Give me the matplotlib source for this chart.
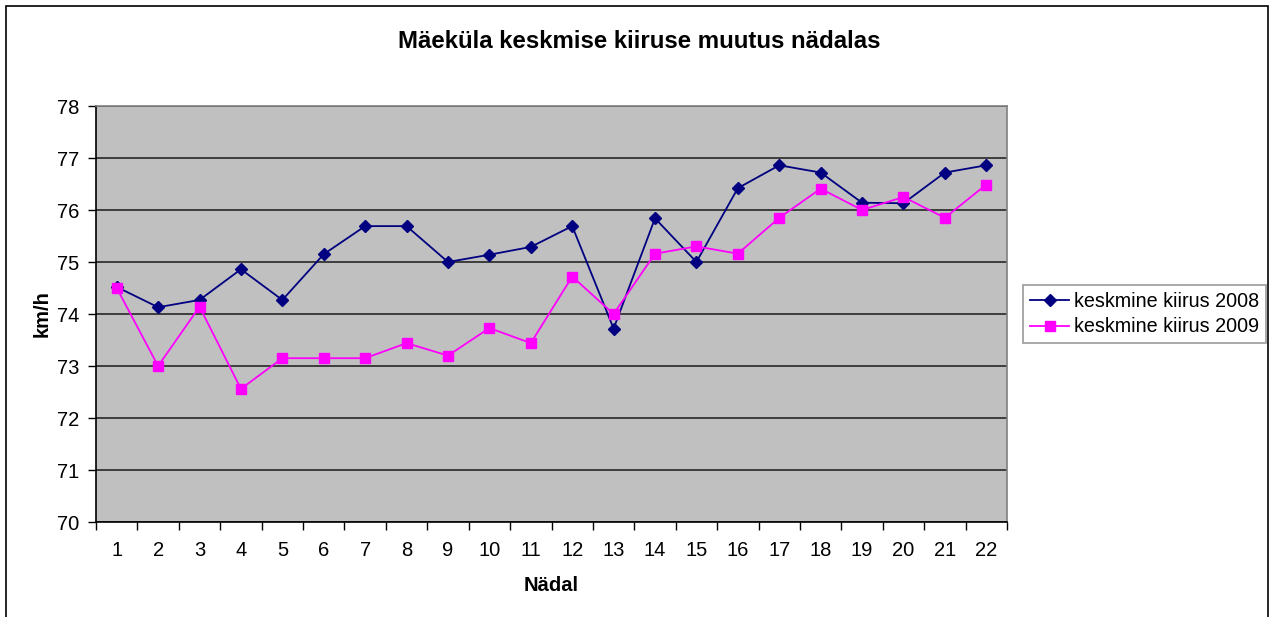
import numpy as np
import matplotlib.pyplot as plt
from matplotlib.patches import Rectangle

plt.rcParams['font.family'] = ['Liberation Sans', 'DejaVu Sans']

# data
weeks = list(range(1, 23))
speed_2008 = [74.52, 74.13, 74.27, 74.86, 74.27, 75.15, 75.69, 75.69, 75.0, 75.14, 75.29,
              75.69, 73.72, 75.84, 75.0, 76.42, 76.86, 76.72, 76.14, 76.13, 76.72, 76.86]
speed_2009 = [74.5, 73.0, 74.14, 72.56, 73.15, 73.15, 73.15, 73.44, 73.2, 73.73, 73.44,
              74.72, 74.0, 75.16, 75.3, 75.16, 75.85, 76.41, 76.0, 76.25, 75.85, 76.49]
label_2008 = 'keskmine kiirus 2008'
label_2009 = 'keskmine kiirus 2009'

W, H = 1273, 617
fig = plt.figure(figsize=(W/100, H/100), dpi=100)
ax = fig.add_axes([96/W, 1 - 522/H, (1007-96)/W, (522-106)/H])
ax.set_facecolor('#C0C0C0')

ax.plot(weeks, speed_2008, color='#000080', marker='D', markersize=6.5, lw=1.3,
        label=label_2008, zorder=3)
ax.plot(weeks, speed_2009, color='#FF00FF', marker='s', markersize=7, lw=1.3,
        label=label_2009, zorder=3)

ax.set_xlim(0.5, 22.5)
ax.set_ylim(70, 78)
ax.set_yticks(range(70, 79))
ax.yaxis.grid(True, color='#333333', lw=1.3)
ax.set_axisbelow(True)

# category axis: tick marks between categories, labels centred
ax.set_xticks(np.arange(0.5, 23, 1))
ax.set_xticklabels([])
ax.set_xticks(weeks, minor=True)
ax.set_xticklabels([str(w) for w in weeks], minor=True)
ax.tick_params(axis='x', which='major', direction='out', length=6, width=1, color='black')
ax.tick_params(axis='x', which='minor', length=0, labelsize=14.5, pad=14)
ax.tick_params(axis='y', direction='out', length=6, width=1, labelsize=14.5, pad=6)

for s in ['top', 'right']:
    ax.spines[s].set_color('#808080')
    ax.spines[s].set_linewidth(1.2)
for s in ['left', 'bottom']:
    ax.spines[s].set_color('black')
    ax.spines[s].set_linewidth(1.2)

ax.set_xlabel('Nädal', fontsize=14.5, fontweight='bold', labelpad=11)
ax.set_ylabel('km/h', fontsize=14.5, fontweight='bold', labelpad=4)
fig.text(639/W, 1 - 42/H, 'Mäeküla keskmise kiiruse muutus nädalas',
         ha='center', va='center', fontsize=17.3, fontweight='bold')

leg = ax.legend(loc='center left', bbox_to_anchor=(1023/W, 1 - 314/H),
                bbox_transform=fig.transFigure, fontsize=14.2, frameon=True,
                fancybox=False, edgecolor='#808080', handlelength=2.0,
                handletextpad=0.25, borderpad=0.35, labelspacing=0.35,
                borderaxespad=0)
leg.get_frame().set_linewidth(1.2)

fig.patches.append(Rectangle((6/W, -0.1), (1268-6)/W, 1.1 - 6/H,
                             transform=fig.transFigure, fill=False,
                             edgecolor='black', lw=1.2))

fig.savefig('out.png', dpi=100)
